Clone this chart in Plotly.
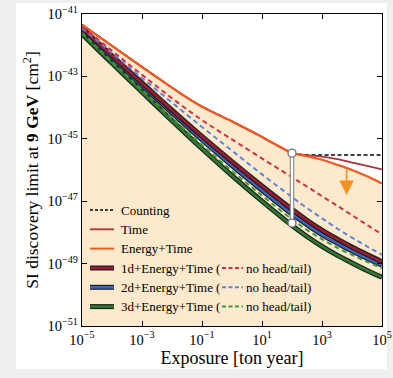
import math
import plotly.graph_objects as go

# ---------------- data (exposure in ton year, limits as log10 of cm^2) ----------------
exposure = [1e-5, 1e-4, 1e-3, 1e-2, 1e-1, 1e0, 1e1, 1e2, 10**2.5, 1e3, 10**3.5, 1e4, 10**4.5, 1e5]
exposure_fine = [1e-5, 1e-4, 1e-3, 1e-2, 10**-1.5, 1e-1, 10**-0.5, 1e0, 1e1, 1e2,
                 10**2.5, 1e3, 10**3.5, 1e4, 10**4.5, 1e5]

energy_time_log = [-41.34, -42.02, -42.70, -43.36, -43.68, -43.97, -44.21, -44.44, -44.94, -45.45,
                   -45.56, -45.67, -45.83, -46.00, -46.20, -46.43]
counting_log = [-41.34, -42.02, -42.70, -43.36, -43.68, -43.97, -44.21, -44.44, -44.94, -45.47,
                -45.52, -45.52, -45.52, -45.52, -45.52, -45.52]
time_log = [-41.34, -42.02, -42.70, -43.36, -43.68, -43.97, -44.21, -44.44, -44.94, -45.45,
            -45.53, -45.57, -45.65, -45.76, -45.87, -45.98]

d1_log = [-41.45, -42.34, -43.21, -44.08, -44.92, -45.73, -46.51, -47.26,
          -47.61, -47.93, -48.21, -48.47, -48.71, -48.94]
d2_log = [-41.51, -42.41, -43.29, -44.17, -45.03, -45.86, -46.65, -47.41,
          -47.75, -48.07, -48.34, -48.59, -48.83, -49.05]
d3_log = [-41.64, -42.58, -43.50, -44.42, -45.32, -46.18, -47.00, -47.78,
          -48.13, -48.45, -48.73, -48.98, -49.22, -49.44]
d1_nht_log = [-41.40, -42.18, -42.95, -43.70, -44.40, -45.02, -45.63, -46.23,
              -46.53, -46.84, -47.14, -47.45, -47.76, -48.06]
d2_nht_log = [-41.45, -42.25, -43.05, -43.84, -44.62, -45.38, -46.14, -46.87,
              -47.22, -47.55, -47.87, -48.17, -48.45, -48.72]
d3_nht_log = [-41.60, -42.53, -43.43, -44.33, -45.20, -46.03, -46.82, -47.58,
              -47.92, -48.22, -48.49, -48.72, -48.94, -49.15]

marker_exposure = [1e2, 1e2]
marker_limit_log = [-45.46, -47.70]

arrow_exposure = 6.6e3
arrow_from_log = -45.95
arrow_to_log = -46.80

x_tickvals = [1e-5, 1e-3, 1e-1, 1e1, 1e3, 1e5]
x_ticktext = ['10<sup>−5</sup>', '10<sup>−3</sup>', '10<sup>−1</sup>',
              '10<sup>1</sup>', '10<sup>3</sup>', '10<sup>5</sup>']
y_tickvals = [1e-51, 1e-49, 1e-47, 1e-45, 1e-43, 1e-41]
y_ticktext = ['10<sup>−51</sup>', '10<sup>−49</sup>', '10<sup>−47</sup>',
              '10<sup>−45</sup>', '10<sup>−43</sup>', '10<sup>−41</sup>']

legend_labels = ['Counting', 'Time', 'Energy+Time',
                 '1d+Energy+Time', '2d+Energy+Time', '3d+Energy+Time']
nht_label = 'no head/tail)'


def lin(vals):
    return [10 ** v for v in vals]


C_ORANGE = '#ef5a23'
C_TIME = '#a8353a'
C_1D = '#9c1c33'
C_2D = '#3d66c4'
C_3D = '#2e7a30'
C_1D_D = '#d0304c'
C_2D_D = '#5a86dc'
C_3D_D = '#3c9a3c'
C_EDGE = '#1e1e1e'
FILL = 'rgb(253,234,204)'
FONT = 'Liberation Serif'

fig = go.Figure()

# fill below Energy+Time
fig.add_trace(go.Scatter(x=exposure_fine, y=lin(energy_time_log), mode='lines',
                         line=dict(width=0, shape='spline', smoothing=0.8), fill='tozeroy',
                         fillcolor=FILL, hoverinfo='skip', showlegend=False))

# counting
fig.add_trace(go.Scatter(x=exposure_fine, y=lin(counting_log), mode='lines',
                         line=dict(color='black', width=1.5, dash='4px,2.5px'),
                         showlegend=False))
# time
fig.add_trace(go.Scatter(x=exposure_fine, y=lin(time_log), mode='lines',
                         line=dict(color=C_TIME, width=1.8, shape='spline', smoothing=0.8),
                         showlegend=False))

# thick solid lines with dark edge
for vals, col in [(d3_log, C_3D), (d2_log, C_2D), (d1_log, C_1D)]:
    fig.add_trace(go.Scatter(x=exposure, y=lin(vals), mode='lines',
                             line=dict(color=C_EDGE, width=5, shape='spline'),
                             showlegend=False))
    fig.add_trace(go.Scatter(x=exposure, y=lin(vals), mode='lines',
                             line=dict(color=col, width=2.6, shape='spline'),
                             showlegend=False))

# dashed no head/tail lines
for vals, col in [(d3_nht_log, C_3D_D), (d2_nht_log, C_2D_D), (d1_nht_log, C_1D_D)]:
    fig.add_trace(go.Scatter(x=exposure, y=lin(vals), mode='lines',
                             line=dict(color=col, width=2, dash='5px,3.5px', shape='spline'),
                             showlegend=False))

# Energy+Time on top
fig.add_trace(go.Scatter(x=exposure_fine, y=lin(energy_time_log), mode='lines',
                         line=dict(color=C_ORANGE, width=2.2, shape='spline', smoothing=0.8),
                         showlegend=False))

# vertical bar with circles
fig.add_trace(go.Scatter(x=marker_exposure, y=lin(marker_limit_log), mode='lines',
                         line=dict(color='#8a8a8a', width=4.5), showlegend=False))
fig.add_trace(go.Scatter(x=marker_exposure, y=lin(marker_limit_log), mode='lines+markers',
                         line=dict(color='white', width=2.2),
                         marker=dict(size=8, color='white',
                                     line=dict(color='#707070', width=1.3)),
                         showlegend=False))

# arrow
fig.add_annotation(x=math.log10(arrow_exposure), y=arrow_to_log,
                   ax=math.log10(arrow_exposure), ay=arrow_from_log,
                   xref='x', yref='y', axref='x', ayref='y', text='',
                   showarrow=True, arrowhead=2, arrowsize=1.8, arrowwidth=1.6,
                   arrowcolor='#f5901e')

# ---------------- manual legend ----------------
W, H = 393, 378
L, R, T, B = 82, 11, 14, 52
pw, ph = W - L - R, H - T - B


def px(xp):
    return (xp - L) / pw


def py(yp):
    return (H - B - yp) / ph


row_y = [210, 229.3, 248.6, 268, 287.3, 306.6]
styles = [
    dict(color='black', width=1.5, dash='3px,2px', edge=None),
    dict(color=C_TIME, width=1.8, dash='solid', edge=None),
    dict(color=C_ORANGE, width=2.0, dash='solid', edge=None),
    dict(color=C_1D, width=2.6, dash='solid', edge=C_EDGE),
    dict(color=C_2D, width=2.6, dash='solid', edge=C_EDGE),
    dict(color=C_3D, width=2.6, dash='solid', edge=C_EDGE),
]
LEG_FS = 13
for i, (lab, st) in enumerate(zip(legend_labels, styles)):
    yy = py(row_y[i])
    if st['edge']:
        fig.add_shape(type='line', xref='paper', yref='paper', x0=px(90), x1=px(114),
                      y0=yy, y1=yy, line=dict(color=st['edge'], width=5))
    fig.add_shape(type='line', xref='paper', yref='paper', x0=px(90), x1=px(114),
                  y0=yy, y1=yy, line=dict(color=st['color'], width=st['width'], dash=st['dash']))
    fig.add_annotation(x=px(119), y=yy, xref='paper', yref='paper', text=lab,
                       showarrow=False, xanchor='left', yanchor='middle',
                       font=dict(family=FONT, size=LEG_FS, color='black'))
for i, col in zip([3, 4, 5], [C_1D_D, C_2D_D, C_3D_D]):
    yy = py(row_y[i])
    fig.add_annotation(x=px(214), y=yy, xref='paper', yref='paper', text='(',
                       showarrow=False, xanchor='left', yanchor='middle',
                       font=dict(family=FONT, size=LEG_FS, color='black'))
    fig.add_shape(type='line', xref='paper', yref='paper', x0=px(222), x1=px(243),
                  y0=yy, y1=yy, line=dict(color=col, width=2, dash='4px,2.5px'))
    fig.add_annotation(x=px(244), y=yy, xref='paper', yref='paper', text=nht_label,
                       showarrow=False, xanchor='left', yanchor='middle',
                       font=dict(family=FONT, size=LEG_FS, color='black'))

# white card behind the figure
fig.add_shape(type='rect', xref='paper', yref='paper', layer='below',
              x0=px(16), x1=px(387), y0=py(369), y1=py(3),
              line=dict(width=0), fillcolor='white')

axis_common = dict(type='log', showline=True, linecolor='black', linewidth=1.3,
                   mirror='ticks', ticks='inside', ticklen=5, tickwidth=1,
                   tickcolor='black', showgrid=False, zeroline=False, automargin=False,
                   tickfont=dict(family=FONT, size=14.5, color='black'))

fig.update_layout(
    width=W, height=H,
    margin=dict(l=L, r=R, t=T, b=B),
    paper_bgcolor='#efefef', plot_bgcolor='white',
    showlegend=False,
    xaxis=dict(range=[-5, 5], tickmode='array', tickvals=x_tickvals, ticktext=x_ticktext,
               title=dict(text='Exposure [ton year]', standoff=2,
                          font=dict(family=FONT, size=18, color='black')),
               **axis_common),
    yaxis=dict(range=[-51, -41], tickmode='array', tickvals=y_tickvals, ticktext=y_ticktext,
               title=dict(text='SI discovery limit at <b>9 GeV</b> [cm<sup>2</sup>]', standoff=4,
                          font=dict(family=FONT, size=17.5, color='black')),
               **axis_common),
)

fig.write_html('out.html')
